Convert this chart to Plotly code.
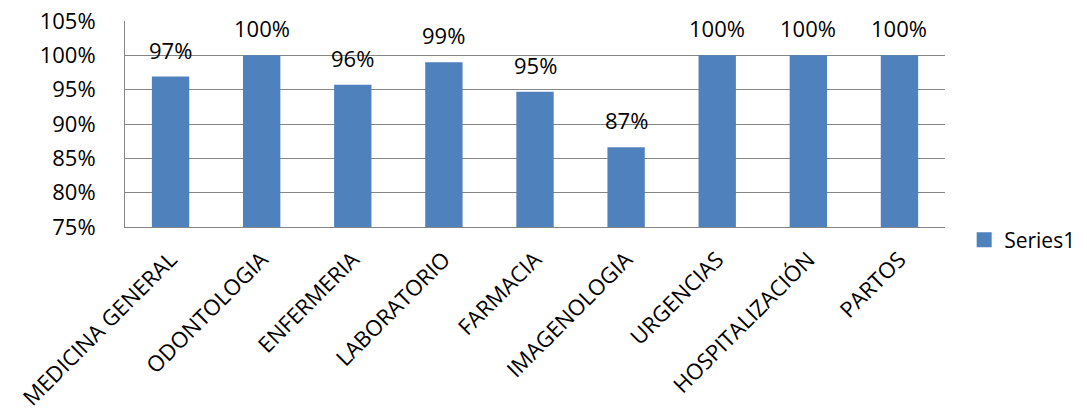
import plotly.graph_objects as go

categories = ["MEDICINA GENERAL", "ODONTOLOGIA", "ENFERMERIA", "LABORATORIO", "FARMACIA",
              "IMAGENOLOGIA", "URGENCIAS", "HOSPITALIZACIÓN", "PARTOS"]
values = [96.9, 100.0, 95.7, 99.0, 94.7, 86.6, 100.0, 100.0, 100.0]
tick_vals = [75, 80, 85, 90, 95, 100, 105]
tick_text = ["75%", "80%", "85%", "90%", "95%", "100%", "105%"]
series_name = "Series1"

FONT = "Open Sans"
FS = 22
BLUE = "#4F81BD"
fig = go.Figure()
fig.add_trace(go.Bar(x=categories, y=values, name=series_name,
                     marker=dict(color=BLUE, line=dict(width=0)),
                     width=0.41, showlegend=False))
# legend entry with a larger square symbol
fig.add_trace(go.Scatter(x=[None], y=[None], mode="markers", name=series_name,
                         marker=dict(symbol="square", size=15, color=BLUE),
                         showlegend=True))

for c, v in zip(categories, values):
    fig.add_annotation(x=c, y=v, text=f"{round(v):d}%", showarrow=False,
                       yanchor="middle", yshift=27,
                       font=dict(family=FONT, size=FS, color="#000000"))

fig.update_layout(
    width=1087, height=414,
    margin=dict(l=125, r=142, t=21, b=187),
    paper_bgcolor="white", plot_bgcolor="white",
    font=dict(family=FONT, size=FS, color="#000000"),
    legend=dict(xref="container", yref="container", x=0.887, y=0.42,
                xanchor="left", yanchor="middle",
                font=dict(family=FONT, size=21), itemwidth=30, tracegroupgap=0,
                borderwidth=0, bgcolor="rgba(0,0,0,0)"),
    xaxis=dict(tickangle=-45, showline=True, linecolor="#868686", linewidth=1,
               showgrid=False, ticks="", ticklabelstandoff=10, automargin=False,
               tickfont=dict(family=FONT, size=FS)),
    yaxis=dict(range=[75, 105], tickvals=tick_vals, ticktext=tick_text,
               showgrid=True, gridcolor="#868686", gridwidth=1,
               showline=True, linecolor="#868686", linewidth=1, automargin=False,
               ticks="", ticklabelstandoff=24, zeroline=False,
               tickfont=dict(family=FONT, size=FS)),
)
fig.write_html("out.html")
